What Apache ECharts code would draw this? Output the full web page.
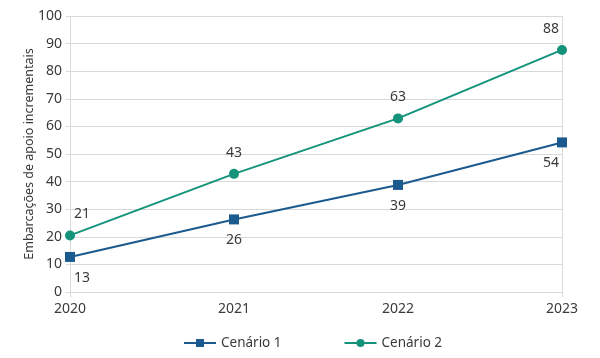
<!DOCTYPE html>
<html><head><meta charset="utf-8">
<script src="https://cdn.jsdelivr.net/npm/echarts@6/dist/echarts.min.js"></script>
<style>html,body{margin:0;padding:0;background:#fff}#c{width:600px;height:358px}</style>
</head><body><div id="c"></div>
<script>
const categories = ['2020', '2021', '2022', '2023'];
const cenario1 = [12.7, 26.3, 38.8, 54.2];
const cenario2 = [20.5, 42.8, 62.9, 87.7];
const yTicks = [0, 10, 20, 30, 40, 50, 60, 70, 80, 90, 100];
const seriesNames = ['Cenário 1', 'Cenário 2'];
const yName = 'Embarcações de apoio incrementais';

const FONT = 'Noto Sans';
const TXT = '#3a3a3a';
const labelOffsets = [[12, 0], [0, 0], [0, 0], [-11, 0]];
function build(vals) {
  return vals.map((v, i) => ({ value: v, label: { offset: labelOffsets[i] } }));
}
const chart = echarts.init(document.getElementById('c'), null, { renderer: 'canvas' });
chart.setOption({
  animation: false,
  textStyle: { fontFamily: FONT },
  grid: { left: 70, right: 38, top: 16, bottom: 66 },
  legend: {
    bottom: 3, left: 178, itemGap: 62, itemWidth: 32, itemHeight: 10,
    textStyle: { fontFamily: FONT, fontSize: 13.5, color: TXT },
    data: seriesNames
  },
  xAxis: {
    type: 'category', data: categories, boundaryGap: false,
    axisLine: { show: true, lineStyle: { color: '#d9d9d9', width: 1 } },
    axisTick: { show: true, length: 5, interval: (i) => i === 0 || i === categories.length - 1, lineStyle: { color: '#d9d9d9' } },
    splitLine: { show: true, interval: (i) => i === categories.length - 1, lineStyle: { color: '#d9d9d9' } },
    axisLabel: { fontFamily: FONT, fontSize: 14, color: TXT, margin: 10 }
  },
  yAxis: {
    type: 'value', min: yTicks[0], max: yTicks[yTicks.length - 1], interval: yTicks[1] - yTicks[0],
    name: yName, nameLocation: 'middle', nameGap: 34, nameRotate: 90, nameMoveOverlap: false,
    nameTextStyle: { fontFamily: FONT, fontSize: 12.5, color: TXT },
    axisLine: { show: true, lineStyle: { color: '#d9d9d9', width: 1 } },
    axisTick: { show: true, length: 4, lineStyle: { color: '#d9d9d9' } },
    splitLine: { show: true, lineStyle: { color: '#d9d9d9' } },
    axisLabel: { fontFamily: FONT, fontSize: 14, color: TXT, margin: 8 }
  },
  series: [
    {
      name: seriesNames[0], type: 'line', data: build(cenario1),
      symbol: 'rect', symbolSize: 10,
      lineStyle: { color: '#1b5a8e', width: 2 }, itemStyle: { color: '#1b5a8e' },
      label: { show: true, position: 'bottom', distance: 9, fontFamily: FONT, fontSize: 14, color: TXT, formatter: (p) => Math.round(p.value) }
    },
    {
      name: seriesNames[1], type: 'line', data: build(cenario2),
      symbol: 'circle', symbolSize: 10,
      lineStyle: { color: '#13937a', width: 2 }, itemStyle: { color: '#13937a' },
      label: { show: true, position: 'top', distance: 9, fontFamily: FONT, fontSize: 14, color: TXT, formatter: (p) => Math.round(p.value) }
    }
  ]
});
</script></body></html>
